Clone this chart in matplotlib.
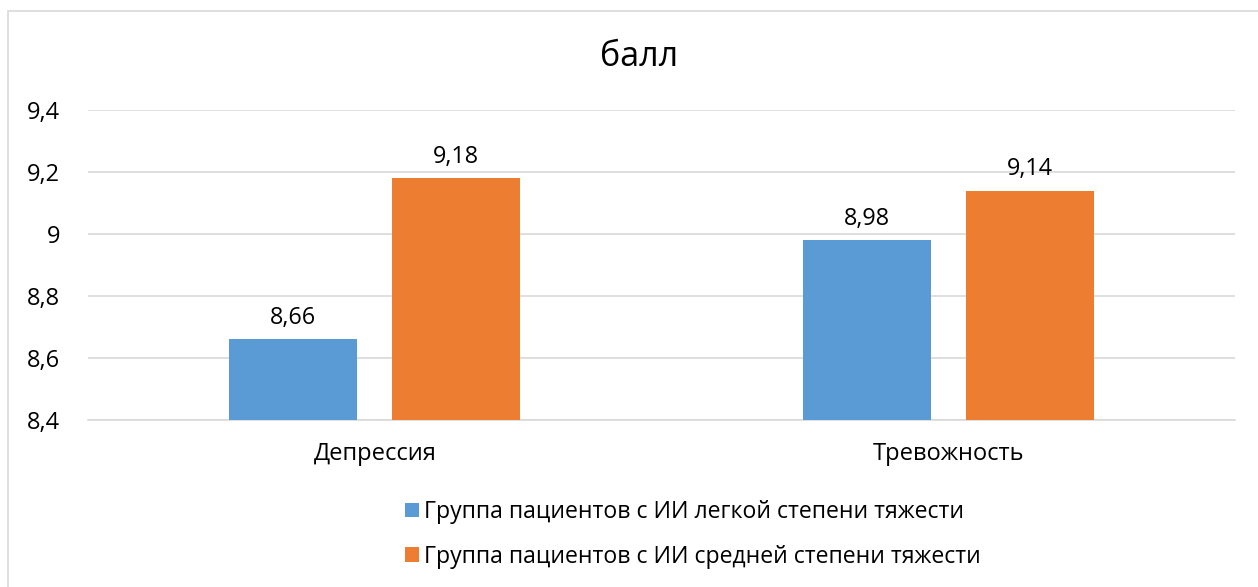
import matplotlib.pyplot as plt
from matplotlib.patches import Rectangle

plt.rcParams['font.family'] = ['Open Sans', 'DejaVu Sans']

categories = ["Депрессия", "Тревожность"]
series_names = ["Группа пациентов с ИИ легкой степени тяжести",
                "Группа пациентов с ИИ средней степени тяжести"]
light = [8.66, 8.98]
medium = [9.18, 9.14]
yticks = [8.4, 8.6, 8.8, 9.0, 9.2, 9.4]
ytick_labels = ["8,4", "8,6", "8,8", "9", "9,2", "9,4"]

colors = ["#5B9BD5", "#ED7D31"]

fig = plt.figure(figsize=(12.58, 5.87), dpi=100)
ax = fig.add_axes([0.070, 0.2845, 0.912, 0.528])

x = range(len(categories))
w = 0.223
off = 0.142
b1 = ax.bar([i - off for i in x], light, w, color=colors[0], label=series_names[0], zorder=3)
b2 = ax.bar([i + off for i in x], medium, w, color=colors[1], label=series_names[1], zorder=3)

for bars, vals in ((b1, light), (b2, medium)):
    for rect, v in zip(bars, vals):
        ax.text(rect.get_x() + rect.get_width() / 2, v + 0.03, f"{v:.2f}".replace(".", ","),
                ha="center", va="bottom", fontsize=16.8)

ax.set_ylim(8.4, 9.4)
ax.set_xlim(-0.5, 1.5)
ax.set_yticks(yticks)
ax.set_yticklabels(ytick_labels, fontsize=17)
ax.set_xticks(list(x))
ax.set_xticklabels(categories, fontsize=17)
ax.tick_params(length=0)
ax.tick_params(axis="y", pad=20)
ax.tick_params(axis="x", pad=16)
ax.grid(axis="y", color="#D9D9D9", linewidth=1.2, zorder=0)
for s in ["top", "right", "left"]:
    ax.spines[s].set_visible(False)
ax.spines["bottom"].set_color("#D9D9D9")
ax.spines["bottom"].set_linewidth(1.2)

fig.text(0.508, 0.903, "балл", ha="center", va="center", fontsize=24.5)

fig.legend(handles=[b1, b2], loc="upper left", bbox_to_anchor=(0.3145, 0.164),
           ncol=1, frameon=False, fontsize=16.6, handlelength=0.6, handleheight=0.6,
           handletextpad=0.25, labelspacing=0.9, borderaxespad=0)

fig.patches.append(Rectangle((8 / 1258, -0.01), 1.0, 1 - 11 / 587 + 0.01,
                             transform=fig.transFigure, fill=False,
                             edgecolor="#D9D9D9", linewidth=1.2))

fig.savefig("out.png", dpi=100)
